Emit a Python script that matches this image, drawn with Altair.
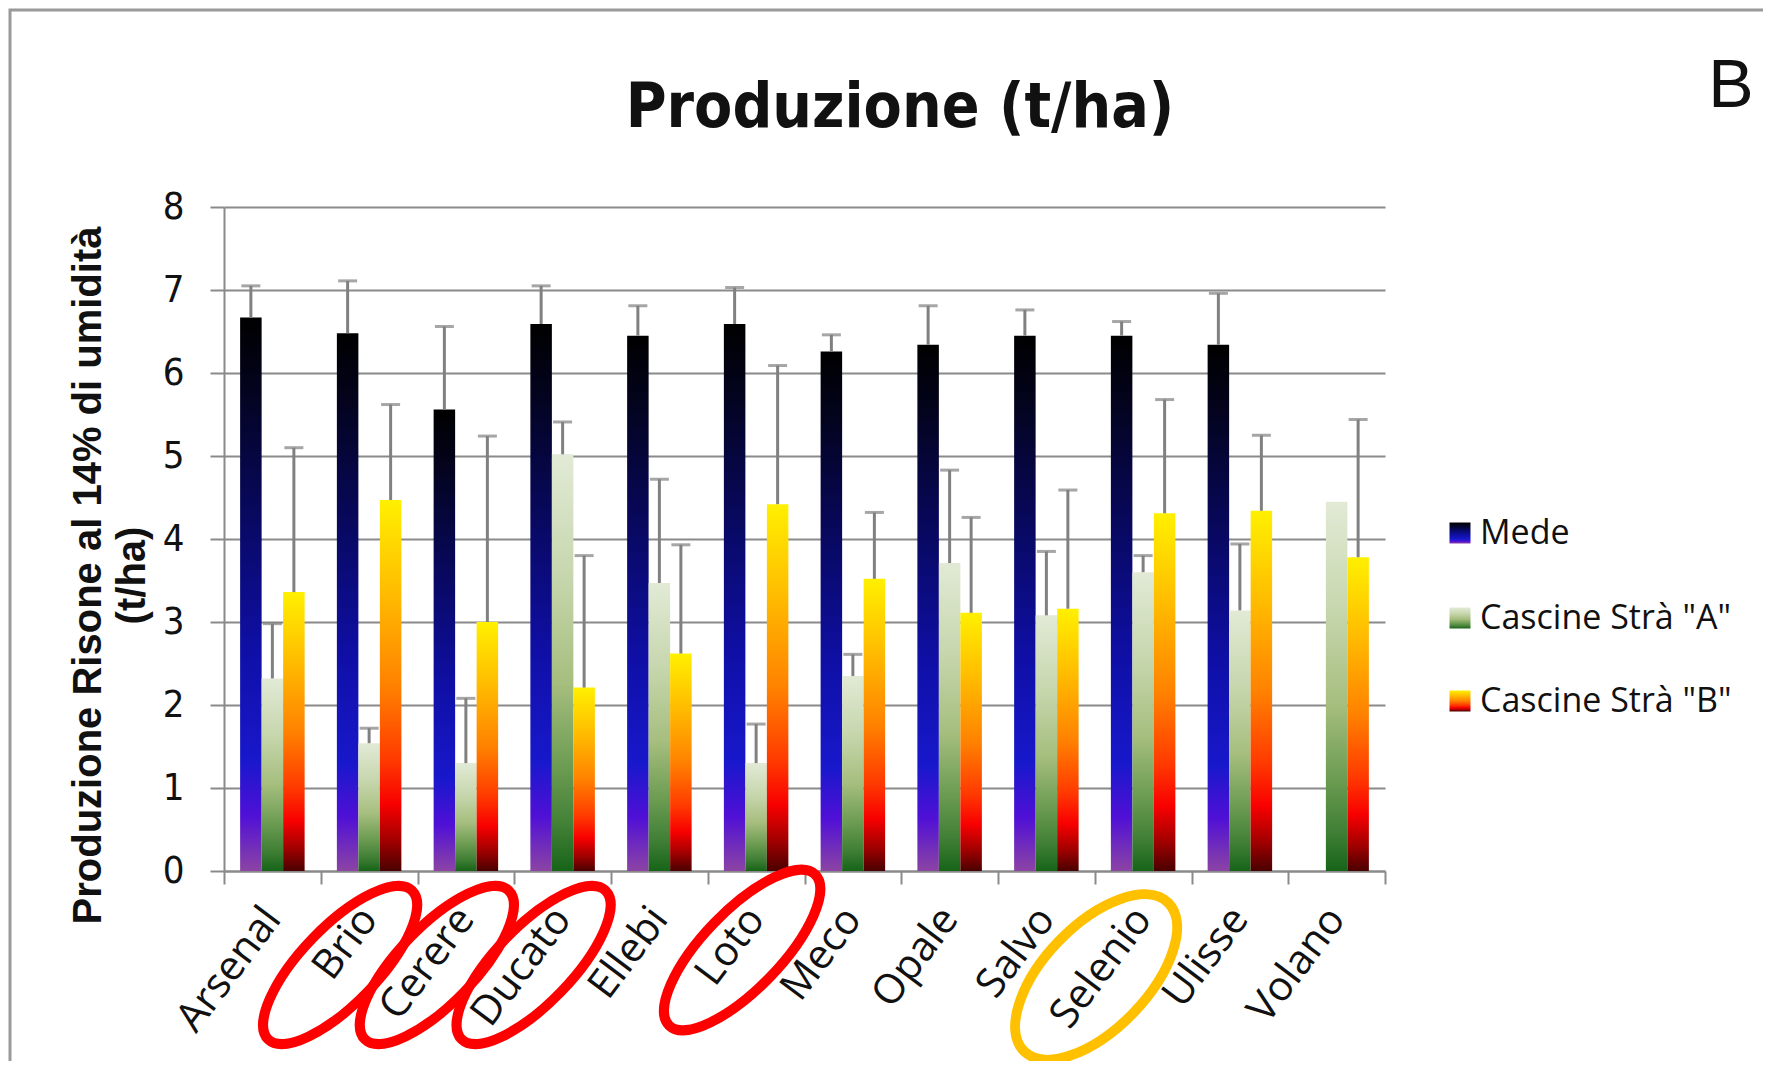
import altair as alt
import pandas as pd

# ---------------- data ----------------
categories = ["Arsenal", "Brio", "Cerere", "Ducato", "Ellebi", "Loto", "Meco",
              "Opale", "Salvo", "Selenio", "Ulisse", "Volano"]
series = ["Mede", 'Cascine Strà "A"', 'Cascine Strà "B"']

mede = [6.67, 6.48, 5.56, 6.59, 6.45, 6.59, 6.26, 6.34, 6.45, 6.45, 6.34, None]
mede_err = [0.38, 0.63, 1.00, 0.46, 0.36, 0.44, 0.20, 0.47, 0.31, 0.17, 0.62, None]
casc_a = [2.32, 1.54, 1.30, 5.02, 3.47, 1.30, 2.35, 3.71, 3.08, 3.60, 3.14, 4.45]
casc_a_err = [0.66, 0.18, 0.78, 0.39, 1.25, 0.47, 0.26, 1.12, 0.77, 0.20, 0.80, None]
casc_b = [3.36, 4.47, 3.00, 2.21, 2.62, 4.42, 3.52, 3.11, 3.16, 4.31, 4.34, 3.78]
casc_b_err = [1.74, 1.15, 2.24, 1.59, 1.31, 1.67, 0.80, 1.15, 1.43, 1.37, 0.91, 1.66]

y_ticks = [0, 1, 2, 3, 4, 5, 6, 7, 8]
title_text = "Produzione (t/ha)"
panel_letter = "B"
y_title = ["Produzione Risone al 14% di umidità", "(t/ha)"]
red_circled = ["Brio", "Cerere", "Ducato"]
red_circled_2 = ["Loto"]
orange_circled = ["Selenio"]

rows = []
for i, c in enumerate(categories):
    for s, vals, errs in zip(series, [mede, casc_a, casc_b], [mede_err, casc_a_err, casc_b_err]):
        v, e = vals[i], errs[i]
        rows.append({
            "cat": c, "series": s, "value": v, "err": e,
            "upper": (v + e) if (v is not None and e is not None) else None,
        })
df = pd.DataFrame(rows)

# ---------------- styles ----------------
NARROW = "Liberation Sans Narrow, DejaVu Sans Condensed, Roboto Condensed, Liberation Sans"
SANS = "Open Sans, Liberation Sans"
GRID = "#8a8a8a"


def grad(stops):
    return alt.LinearGradient(
        gradient="linear", x1=0, x2=0, y1=0, y2=1,
        stops=[alt.GradientStop(offset=o, color=c) for o, c in stops],
    )


gradients = {
    series[0]: grad([(0.0, "#000000"), (0.12, "#03031c"), (0.35, "#08085e"),
                     (0.6, "#0f0fa6"), (0.8, "#1818cc"), (0.9, "#5010d6"), (1.0, "#8c44a4")]),
    series[1]: grad([(0.0, "#e2ead6"), (0.3, "#c6d6ac"), (0.55, "#a6be7e"),
                     (0.75, "#6c9c52"), (0.9, "#3e7e34"), (1.0, "#166418")]),
    series[2]: grad([(0.0, "#fff000"), (0.25, "#ffbc00"), (0.5, "#ff8200"),
                     (0.7, "#ff3a00"), (0.82, "#f80000"), (0.92, "#a00000"), (1.0, "#4a0000")]),
}

X = alt.X(
    "cat:N", sort=categories,
    scale=alt.Scale(domain=categories, paddingInner=0, paddingOuter=0),
    axis=alt.Axis(
        title=None, tickBand="extent", labelAngle=-53, labelAlign="right",
        labelBaseline="middle", labelFont=SANS, labelFontSize=41, labelColor="#111111",
        labelPadding=28, labelOffset=0, tickSize=13, tickColor=GRID, tickWidth=2,
        domainColor=GRID, domainWidth=2, grid=False,
    ),
)
XO = alt.XOffset("series:N", sort=series,
                 scale=alt.Scale(domain=series, paddingInner=0, paddingOuter=0.75))
y_axis = alt.Axis(
    values=y_ticks, format="d", title=y_title, titleFont="Liberation Sans",
    titleFontWeight="bold", titleFontSize=40, titleAngle=270, titleX=-124, titleY=368,
    titleAlign="center", titleBaseline="alphabetic", titleLineHeight=44, titleColor="#111111",
    labelFont=NARROW, labelFontSize=38, labelColor="#111111", labelPadding=26,
    tickSize=14, tickColor=GRID, tickWidth=2, gridColor=GRID, gridWidth=2,
    domainColor=GRID, domainWidth=2,
)
Y_SCALE = alt.Scale(domain=[0, 8], nice=False)

base = alt.Chart(df)

bar_layers = []
for s in series:
    bar_layers.append(
        base.transform_filter(alt.FieldEqualPredicate(field="series", equal=s))
        .transform_filter("isValid(datum.value)")
        .mark_bar(fill=gradients[s], strokeWidth=0)
        .encode(x=X, xOffset=XO, y=alt.Y("value:Q", scale=Y_SCALE, axis=y_axis))
    )

err_base = base.transform_filter("isValid(datum.err) && isValid(datum.value)")
err_rules = err_base.mark_rule(color="#808080", strokeWidth=3).encode(
    x=X, xOffset=XO, y=alt.Y("value:Q", scale=Y_SCALE, axis=y_axis), y2="upper:Q")
err_caps = err_base.mark_tick(color="#808080", thickness=3, size=19).encode(
    x=X, xOffset=XO, y=alt.Y("upper:Q", scale=Y_SCALE, axis=y_axis))

# ---------------- annotations ----------------
ELLIPSE = "M -1 0 A 1 0.37 0 1 0 1 0 A 1 0.37 0 1 0 -1 0 Z"
ELLIPSE_WIDE = "M -1 0 A 1 0.5 0 1 0 1 0 A 1 0.5 0 1 0 -1 0 Z"

ell_red = alt.Chart(pd.DataFrame({"cat": red_circled})).mark_point(
    shape=ELLIPSE, filled=False, stroke="#ff0000", strokeWidth=10, opacity=1,
    size=42849, angle=314, xOffset=-29,
).encode(x=X, y=alt.value(758))
ell_red2 = alt.Chart(pd.DataFrame({"cat": red_circled_2})).mark_point(
    shape=ELLIPSE, filled=False, stroke="#ff0000", strokeWidth=10, opacity=1,
    size=44100, angle=314, xOffset=-14,
).encode(x=X, y=alt.value(743))
ell_orange = alt.Chart(pd.DataFrame({"cat": orange_circled})).mark_point(
    shape=ELLIPSE_WIDE, filled=False, stroke="#ffc000", strokeWidth=10, opacity=1,
    size=42849, angle=314, xOffset=-47,
).encode(x=X, y=alt.value(770))

title = alt.Chart(pd.DataFrame({"t": [title_text]})).mark_text(
    font=NARROW, fontSize=62, fontWeight="bold", color="#111111", align="center",
    baseline="alphabetic",
).encode(text="t:N", x=alt.value(676), y=alt.value(-80))

letter = alt.Chart(pd.DataFrame({"t": [panel_letter]})).mark_text(
    font="Liberation Sans", fontSize=68, color="#111111", align="center", baseline="alphabetic",
).encode(text="t:N", x=alt.value(1507), y=alt.value(-100))

legend_y = [326, 411, 494]
legend_layers = []
for s, ly in zip(series, legend_y):
    ldf = pd.DataFrame({"series": [s]})
    legend_layers.append(
        alt.Chart(ldf).mark_square(size=441, fill=gradients[s], filled=True, opacity=1)
        .encode(x=alt.value(1236), y=alt.value(ly))
    )
    legend_layers.append(
        alt.Chart(ldf).mark_text(font=SANS, fontSize=34, color="#111111", align="left",
                                 baseline="middle")
        .encode(text="series:N", x=alt.value(1256), y=alt.value(ly + 1))
    )

frame = alt.Chart(pd.DataFrame({"k": [0]})).mark_rect(
    filled=False, stroke="#9a9a9a", strokeWidth=3, fillOpacity=0,
).encode(x=alt.value(-214), x2=alt.value(1700), y=alt.value(-197), y2=alt.value(1100))

chart = alt.layer(
    frame, *bar_layers, err_rules, err_caps, ell_red, ell_red2, ell_orange,
    title, letter, *legend_layers,
).properties(
    width=1161, height=664,
    padding={"left": 216, "top": 199, "right": 378, "bottom": 190},
    autosize=alt.AutoSizeParams(type="none"),
    background="white",
).configure_view(stroke=None)

chart.save("out.html", embed_options={"renderer": "svg", "actions": False})
